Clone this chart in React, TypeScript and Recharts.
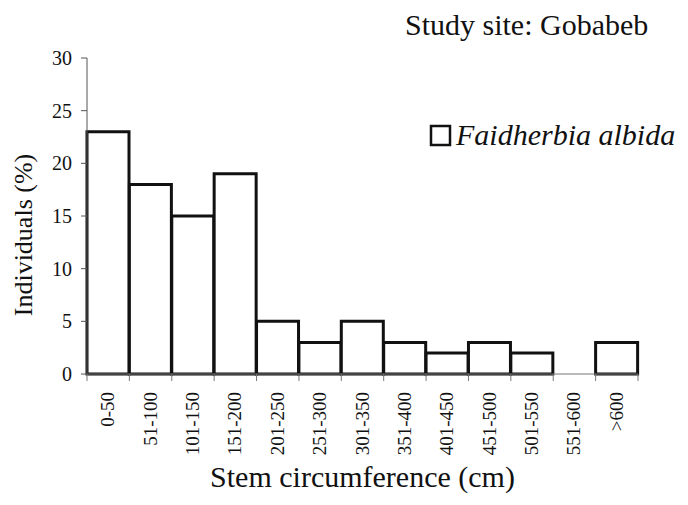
import { Bar, BarChart, XAxis, YAxis } from "recharts";

const categories = [
  "0-50",
  "51-100",
  "101-150",
  "151-200",
  "201-250",
  "251-300",
  "301-350",
  "351-400",
  "401-450",
  "451-500",
  "501-550",
  "551-600",
  ">600",
];
const individuals = [23, 18, 15, 19, 5, 3, 5, 3, 2, 3, 2, 0, 3];
const yTicks = [0, 5, 10, 15, 20, 25, 30];

const seriesName = "Faidherbia albida";
const font = "'Liberation Serif', 'Times New Roman', serif";

const data = categories.map((range, i) => ({ range, value: individuals[i] }));

const W = 688;
const H = 505;
const PLOT_LEFT = 87;
const PLOT_RIGHT = 638;
const PLOT_TOP = 58;
const PLOT_BOTTOM = 374;
const HALF_STEP = (PLOT_RIGHT - PLOT_LEFT) / categories.length / 2;

function RangeTick(props: any) {
  const { x, payload, index } = props;
  const half = payload?.offset || HALF_STEP;
  const last = index === categories.length - 1;
  const y = PLOT_BOTTOM;
  return (
    <g>
      <line x1={x - half} x2={x - half} y1={y} y2={y + 7} stroke="#777" strokeWidth={1} />
      {last && <line x1={x + half} x2={x + half} y1={y} y2={y + 7} stroke="#777" strokeWidth={1} />}
      <g transform={`translate(${x + 6},${y + 18}) rotate(-90)`}>
        <text x={0} y={0} textAnchor="end" fontSize={19} fontFamily={font} fill="#111">
          {payload.value}
        </text>
      </g>
    </g>
  );
}

export default function App() {
  return (
    <div style={{ position: "absolute", left: 0, top: 0, width: W, height: H, background: "#fff" }}>
      <BarChart
        width={W}
        height={H}
        data={data}
        margin={{ top: PLOT_TOP, right: W - PLOT_RIGHT, bottom: 0, left: 0 }}
        barCategoryGap={0}
        barGap={0}
      >
        <XAxis
          dataKey="range"
          height={H - PLOT_BOTTOM}
          interval={0}
          tickLine={false}
          axisLine={{ stroke: "#777", strokeWidth: 1 }}
          tick={<RangeTick />}
        />
        <YAxis
          width={PLOT_LEFT}
          domain={[0, 30]}
          ticks={yTicks}
          tickSize={6}
          tickMargin={9}
          axisLine={{ stroke: "#555", strokeWidth: 1 }}
          tickLine={{ stroke: "#555", strokeWidth: 1 }}
          tick={{ fontSize: 20, fontFamily: font, fill: "#111" }}
        />
        <Bar
          dataKey="value"
          name={seriesName}
          fill="#fff"
          stroke="#111"
          strokeWidth={3}
          isAnimationActive={false}
        />
        <text x={405} y={35} fontSize={30} fontFamily={font} fill="#111">
          Study site: Gobabeb
        </text>
        <rect x={431} y={126} width={19} height={19} fill="#fff" stroke="#111" strokeWidth={2.5} />
        <text x={456} y={145} fontSize={30} fontStyle="italic" fontFamily={font} fill="#111">
          {seriesName}
        </text>
        <text
          transform="translate(32,235) rotate(-90)"
          textAnchor="middle"
          fontSize={26}
          fontFamily={font}
          fill="#111"
        >
          Individuals (%)
        </text>
        <text
          x={(PLOT_LEFT + PLOT_RIGHT) / 2}
          y={487}
          textAnchor="middle"
          fontSize={30}
          fontFamily={font}
          fill="#111"
        >
          Stem circumference (cm)
        </text>
      </BarChart>
    </div>
  );
}
